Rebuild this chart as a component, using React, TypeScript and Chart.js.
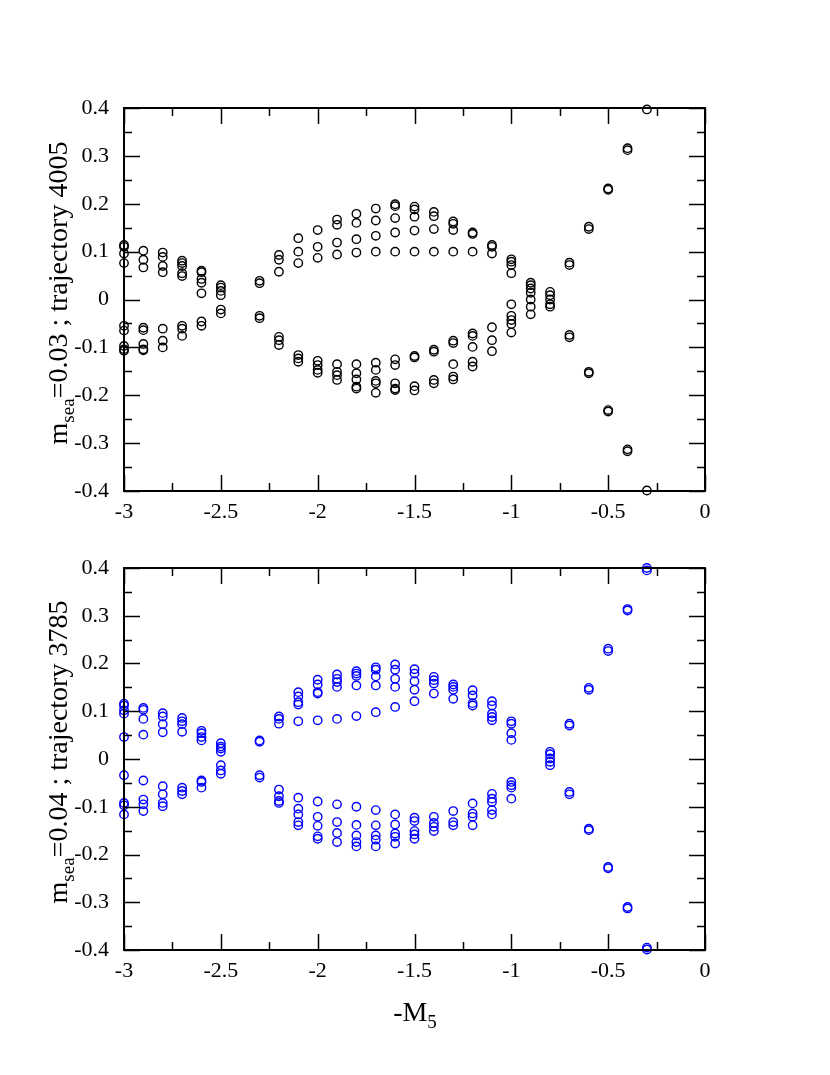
import { useEffect, useRef } from "react";
import { Chart, registerables } from "chart.js";

Chart.register(...registerables);

// -M5 values where the spectrum was measured, and the eigenvalues found there
const topMasses = [-3, -2.9, -2.8, -2.7, -2.6, -2.5, -2.3, -2.2, -2.1, -2.0, -1.9, -1.8, -1.7, -1.6, -1.5, -1.4, -1.3, -1.2, -1.1, -1.0, -0.9, -0.8, -0.7, -0.6, -0.5, -0.4, -0.3];
const topLevels = [
  [0.114, 0.110, 0.096, 0.076, -0.055, -0.065, -0.097, -0.104, -0.107],
  [0.102, 0.083, 0.067, -0.059, -0.064, -0.093, -0.104, -0.106],
  [0.098, 0.089, 0.070, 0.057, -0.061, -0.086, -0.100],
  [0.081, 0.076, 0.070, 0.055, 0.049, -0.055, -0.061, -0.076],
  [0.060, 0.057, 0.043, 0.035, 0.013, -0.046, -0.055],
  [0.030, 0.025, 0.018, 0.009, -0.021, -0.029],
  [0.039, 0.034, -0.034, -0.039],
  [0.093, 0.083, 0.058, -0.078, -0.085, -0.095],
  [0.128, 0.100, 0.076, -0.116, -0.123, -0.130],
  [0.145, 0.110, 0.087, -0.128, -0.137, -0.147, -0.153],
  [0.167, 0.156, 0.119, 0.094, -0.135, -0.151, -0.158, -0.168],
  [0.179, 0.160, 0.126, 0.098, -0.135, -0.154, -0.167, -0.182, -0.186],
  [0.190, 0.165, 0.133, 0.100, -0.132, -0.147, -0.170, -0.175, -0.195],
  [0.199, 0.195, 0.170, 0.140, 0.100, -0.125, -0.137, -0.175, -0.186, -0.189],
  [0.194, 0.188, 0.173, 0.144, 0.100, -0.118, -0.121, -0.181, -0.190],
  [0.183, 0.174, 0.147, 0.100, -0.105, -0.109, -0.168, -0.175],
  [0.163, 0.158, 0.145, 0.100, -0.086, -0.091, -0.135, -0.161, -0.167],
  [0.140, 0.137, 0.100, -0.071, -0.076, -0.099, -0.130, -0.140],
  [0.114, 0.110, 0.096, -0.058, -0.085, -0.108],
  [0.084, 0.079, 0.072, 0.055, -0.010, -0.034, -0.043, -0.051, -0.069],
  [0.035, 0.030, 0.023, 0.014, 0.000, -0.015, -0.031],
  [0.016, 0.009, 0.000, -0.010, -0.015],
  [0.077, 0.072, -0.074, -0.079],
  [0.152, 0.147, -0.151, -0.154],
  [0.232, 0.229, -0.231, -0.234],
  [0.316, 0.312, -0.313, -0.317],
  [0.397, -0.399],
];

const bottomMasses = [-3, -2.9, -2.8, -2.7, -2.6, -2.5, -2.3, -2.2, -2.1, -2.0, -1.9, -1.8, -1.7, -1.6, -1.5, -1.4, -1.3, -1.2, -1.1, -1.0, -0.8, -0.7, -0.6, -0.5, -0.4, -0.3];
const bottomLevels = [
  [0.116, 0.112, 0.102, 0.095, 0.046, -0.034, -0.092, -0.097, -0.116],
  [0.107, 0.103, 0.084, 0.051, -0.045, -0.085, -0.095, -0.109],
  [0.096, 0.089, 0.073, 0.056, -0.057, -0.074, -0.092, -0.099],
  [0.086, 0.079, 0.073, 0.057, -0.060, -0.067, -0.074],
  [0.059, 0.054, 0.046, 0.039, -0.045, -0.048, -0.060],
  [0.033, 0.026, 0.022, 0.015, -0.013, -0.024, -0.031],
  [0.039, 0.036, -0.034, -0.039],
  [0.089, 0.084, 0.074, -0.064, -0.078, -0.088, -0.092],
  [0.140, 0.131, 0.119, 0.114, 0.079, -0.081, -0.104, -0.116, -0.132, -0.139],
  [0.166, 0.156, 0.140, 0.137, 0.081, -0.089, -0.121, -0.140, -0.162, -0.167],
  [0.177, 0.168, 0.161, 0.151, 0.084, -0.095, -0.132, -0.155, -0.174],
  [0.184, 0.179, 0.174, 0.154, 0.090, -0.100, -0.138, -0.160, -0.174, -0.183],
  [0.192, 0.187, 0.173, 0.154, 0.098, -0.107, -0.139, -0.160, -0.169, -0.183],
  [0.198, 0.187, 0.168, 0.151, 0.109, -0.116, -0.137, -0.156, -0.163, -0.177],
  [0.188, 0.179, 0.163, 0.145, 0.121, -0.123, -0.130, -0.151, -0.158, -0.167],
  [0.172, 0.165, 0.158, 0.137, -0.121, -0.134, -0.142, -0.151],
  [0.156, 0.151, 0.145, 0.126, -0.109, -0.132, -0.139],
  [0.144, 0.133, 0.117, 0.112, -0.093, -0.114, -0.121, -0.139],
  [0.121, 0.112, 0.095, 0.088, 0.081, -0.073, -0.083, -0.090, -0.107, -0.116],
  [0.079, 0.074, 0.054, 0.040, -0.048, -0.055, -0.060, -0.083],
  [0.015, 0.010, 0.001, -0.006, -0.013],
  [0.074, 0.070, -0.069, -0.074],
  [0.149, 0.145, -0.146, -0.149],
  [0.231, 0.226, -0.226, -0.229],
  [0.314, 0.311, -0.310, -0.313],
  [0.400, 0.395, -0.395, -0.399],
];

const xTicks = [-3, -2.5, -2, -1.5, -1, -0.5, 0];
const yTicks = [-0.4, -0.3, -0.2, -0.1, 0, 0.1, 0.2, 0.3, 0.4];

const FONT = "'Liberation Serif', 'DejaVu Serif', serif";

const fmt = (v: number) => String(Math.round(v * 100) / 100);

// inward ticks on all four sides, like the xmgrace frame
const framePlugin = {
  id: "frame",
  afterDraw(chart: any) {
    const { ctx, chartArea: a, scales } = chart;
    const xs = scales.x;
    const ys = scales.y;
    ctx.save();
    ctx.strokeStyle = "#000";
    ctx.lineWidth = 1.5;
    ctx.beginPath();
    const xv = xs.ticks.map((t: any) => t.value);
    xv.forEach((v: number, i: number) => {
      const marks: [number, number][] = [[v, 16]];
      if (i < xv.length - 1) marks.push([(v + xv[i + 1]) / 2, 8]);
      marks.forEach(([m, len]) => {
        const px = Math.round(xs.getPixelForValue(m)) + 0.5;
        ctx.moveTo(px, a.bottom);
        ctx.lineTo(px, a.bottom - len);
        ctx.moveTo(px, a.top);
        ctx.lineTo(px, a.top + len);
      });
    });
    const yv = ys.ticks.map((t: any) => t.value);
    yv.forEach((v: number, i: number) => {
      const marks: [number, number][] = [[v, 16]];
      if (i < yv.length - 1) marks.push([(v + yv[i + 1]) / 2, 8]);
      marks.forEach(([m, len]) => {
        const py = Math.round(ys.getPixelForValue(m)) + 0.5;
        ctx.moveTo(a.left, py);
        ctx.lineTo(a.left + len, py);
        ctx.moveTo(a.right, py);
        ctx.lineTo(a.right - len, py);
      });
    });
    ctx.stroke();
    ctx.lineWidth = 2;
    ctx.strokeRect(a.left, a.top, a.right - a.left, a.bottom - a.top);
    ctx.restore();
  },
};

// axis titles with subscripts, drawn as text runs
const titlePlugin = {
  id: "titles",
  afterDraw(chart: any, _args: any, opts: any) {
    const { ctx } = chart;
    const big = `28px ${FONT}`;
    const small = `19px ${FONT}`;
    const runs = (parts: [string, boolean][], cx: number, cy: number, rot: number) => {
      ctx.save();
      ctx.translate(cx, cy);
      ctx.rotate(rot);
      ctx.fillStyle = "#000";
      ctx.textBaseline = "alphabetic";
      ctx.textAlign = "left";
      let total = 0;
      parts.forEach(([s, sub]) => {
        ctx.font = sub ? small : big;
        total += ctx.measureText(s).width;
      });
      let x = -total / 2;
      parts.forEach(([s, sub]) => {
        ctx.font = sub ? small : big;
        ctx.fillText(s, x, sub ? 7 : 0);
        x += ctx.measureText(s).width;
      });
      ctx.restore();
    };
    runs(
      [["m", false], ["sea", true], [`=${opts.mass} ; trajectory ${opts.traj}`, false]],
      67,
      opts.yCenter,
      -Math.PI / 2
    );
    if (opts.xTitle) runs([["-M", false], ["5", true]], 415, opts.xTitleY, 0);
  },
};

type PanelProps = {
  masses: number[];
  levels: number[][];
  color: string;
  height: number;
  top: number;
  plotTop: number;
  plotBottom: number;
  mass: string;
  traj: string;
  yCenter: number;
  xTitle?: boolean;
  xTitleY?: number;
};

function Panel(p: PanelProps) {
  const ref = useRef<HTMLCanvasElement>(null);

  useEffect(() => {
    if (!ref.current) return;
    const points = p.masses.flatMap((m, i) => p.levels[i].map((v) => ({ x: m, y: v })));
    const chart = new Chart(ref.current, {
      type: "scatter",
      data: {
        datasets: [
          {
            data: points,
            pointStyle: "circle",
            pointRadius: 4.2,
            pointBorderWidth: 1.4,
            pointBorderColor: p.color,
            pointBackgroundColor: "rgba(0,0,0,0)",
            clip: false,
          } as any,
        ],
      },
      options: {
        responsive: false,
        animation: false,
        devicePixelRatio: 1,
        layout: { padding: { top: p.plotTop, right: 830 - 705, left: 0, bottom: 0 } },
        plugins: {
          legend: { display: false },
          tooltip: { enabled: false },
          titles: { mass: p.mass, traj: p.traj, yCenter: p.yCenter, xTitle: p.xTitle, xTitleY: p.xTitleY },
        } as any,
        scales: {
          x: {
            type: "linear",
            min: -3,
            max: 0,
            grid: { display: false },
            border: { display: false },
            afterBuildTicks: (s: any) => {
              s.ticks = xTicks.map((v) => ({ value: v }));
            },
            afterFit: (s: any) => {
              s.height = p.height - p.plotBottom;
            },
            ticks: {
              color: "#000",
              padding: 0,
              maxRotation: 0,
              autoSkip: false,
              font: { family: FONT, size: 22 },
              callback: (v: any) => fmt(Number(v)),
            },
          },
          y: {
            type: "linear",
            min: -0.4,
            max: 0.4,
            grid: { display: false },
            border: { display: false },
            afterBuildTicks: (s: any) => {
              s.ticks = yTicks.map((v) => ({ value: v }));
            },
            afterFit: (s: any) => {
              s.width = 124;
            },
            ticks: {
              color: "#000",
              padding: 7,
              autoSkip: false,
              font: { family: FONT, size: 22 },
              callback: (v: any) => fmt(Number(v)),
            },
          },
        },
      },
      plugins: [framePlugin, titlePlugin],
    });
    return () => chart.destroy();
  }, []);

  return (
    <canvas
      ref={ref}
      width={830}
      height={p.height}
      style={{ position: "absolute", left: 0, top: p.top, width: 830, height: p.height }}
    />
  );
}

export default function App() {
  return (
    <div style={{ position: "absolute", left: 0, top: 0, width: 830, height: 1075, background: "#fff" }}>
      <Panel
        masses={topMasses}
        levels={topLevels}
        color="#000000"
        height={530}
        top={0}
        plotTop={108}
        plotBottom={491}
        mass="0.03"
        traj="4005"
        yCenter={293}
      />
      <Panel
        masses={bottomMasses}
        levels={bottomLevels}
        color="#0000ff"
        height={545}
        top={530}
        plotTop={38}
        plotBottom={420}
        mass="0.04"
        traj="3785"
        yCenter={222}
        xTitle
        xTitleY={491}
      />
    </div>
  );
}
